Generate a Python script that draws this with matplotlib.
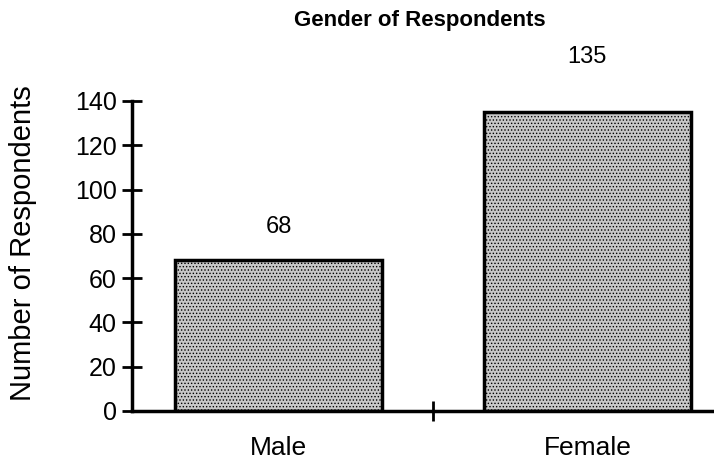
import numpy as np
import matplotlib
matplotlib.use('Agg')
import matplotlib.pyplot as plt

plt.rcParams['font.family'] = ['Liberation Sans', 'DejaVu Sans']
plt.rcParams['hatch.color'] = '#8c8c8c'
plt.rcParams['hatch.linewidth'] = 0.6

# data
categories = ['Male', 'Female']
counts = [68, 135]
yticks = [0, 20, 40, 60, 80, 100, 120, 140]

fig = plt.figure(figsize=(7.14, 4.59), dpi=100)
ax = fig.add_axes([0.185, 0.105, 0.815, 0.675])

x = np.arange(len(categories))
bars = ax.bar(x, counts, width=0.67, color='#c8c8c8', edgecolor='black',
              linewidth=2.5, hatch='.....', zorder=2)

# value labels above bars
label_offsets = [16, 32]
for rect, off in zip(bars, label_offsets):
    h = rect.get_height()
    ax.annotate('%d' % h, (rect.get_x() + rect.get_width() / 2, h),
                xytext=(0, off), textcoords='offset points',
                ha='center', va='bottom', fontsize=17)

ax.set_xlim(-0.474, 1.41)
ax.set_ylim(0, 140)
ax.set_yticks(yticks)
ax.set_yticklabels([str(v) for v in yticks], fontsize=18)
ax.set_xticks([0.5])
ax.set_xticklabels([''])
ax.tick_params(axis='both', direction='inout', length=14, width=2)
ax.tick_params(axis='y', pad=4)

for c, xi in zip(categories, x):
    ax.text(xi, -0.08, c, transform=ax.get_xaxis_transform(),
            ha='center', va='top', fontsize=19)

ax.spines['top'].set_visible(False)
ax.spines['right'].set_visible(False)
ax.spines['left'].set_linewidth(2.5)
ax.spines['bottom'].set_linewidth(2.5)

ax.set_ylabel('Number of Respondents', fontsize=21)
ax.yaxis.set_label_coords(-0.163, 0.54)
fig.text(0.588, 0.955, 'Gender of Respondents', ha='center', va='center',
         fontsize=16, fontweight='bold')

plt.savefig('out.png', dpi=100)
